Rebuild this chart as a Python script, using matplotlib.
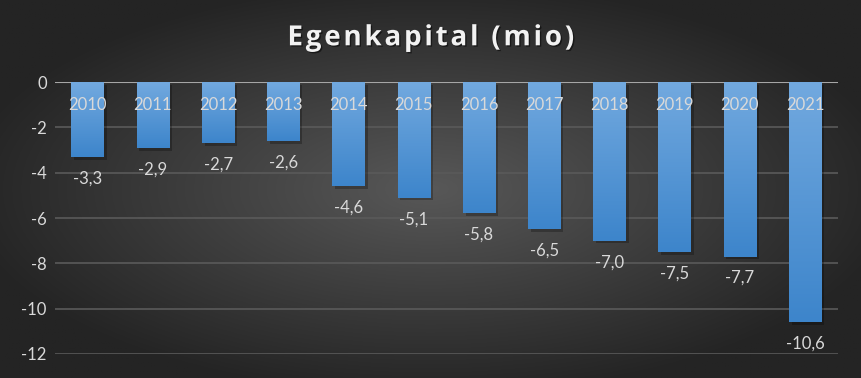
import numpy as np
import matplotlib.pyplot as plt
import matplotlib.patheffects as pe

years = ["2010", "2011", "2012", "2013", "2014", "2015", "2016", "2017", "2018", "2019", "2020", "2021"]
values = [-3.3, -2.9, -2.7, -2.6, -4.6, -5.1, -5.8, -6.5, -7.0, -7.5, -7.7, -10.6]
y_ticks = [0, -2, -4, -6, -8, -10, -12]
title = "Egenkapital (mio)"

plt.rcParams["font.family"] = ["Lato", "DejaVu Sans"]

fig = plt.figure(figsize=(8.61, 3.78), dpi=100)

# radial background
bg = fig.add_axes([0, 0, 1, 1])
yy, xx = np.mgrid[-1:1:300j, -1:1:600j]
r = np.sqrt((xx / 1.1) ** 2 + (yy / 1.1) ** 2)
r = np.clip(r, 0, 1)
inner = np.array([0x58, 0x58, 0x58]) / 255
outer = np.array([0x24, 0x24, 0x24]) / 255
img = inner[None, None, :] * (1 - r[..., None]) + outer[None, None, :] * r[..., None]
bg.imshow(img, aspect="auto", extent=[0, 1, 0, 1])
bg.axis("off")

ax = fig.add_axes([0.064, 0.0635, 0.909, 0.7195])
ax.patch.set_alpha(0)
x = np.arange(len(years))
bars = ax.bar(x, values, width=0.5, color="#4f93d6", zorder=3)

# vertical gradient on bars
grad = np.linspace(0, 1, 100).reshape(-1, 1)
top = np.array([0x72, 0xa9, 0xdf]) / 255
bot = np.array([0x3d, 0x85, 0xcb]) / 255
for b, v in zip(bars, values):
    col = top[None, None, :] * (1 - grad[..., None]) + bot[None, None, :] * grad[..., None]
    col = np.repeat(col, 2, axis=1)
    im = ax.imshow(col, extent=[b.get_x(), b.get_x() + b.get_width(), v, 0],
                   aspect="auto", zorder=4)
    im.set_clip_path(b)

shadow = [pe.withSimplePatchShadow(offset=(2, -2), shadow_rgbFace="black", alpha=0.25)]
for b in bars:
    b.set_path_effects(shadow)

for i, (yr, v) in enumerate(zip(years, values)):
    ax.text(i, -1.0, yr, ha="center", va="center", color="#d9d9d9", fontsize=12, zorder=5)
    ax.text(i, v - 0.95, f"{v:.1f}".replace(".", ","), ha="center", va="center",
            color="#d9d9d9", fontsize=12, zorder=5)

ax.set_xlim(-0.5, len(years) - 0.5)
ax.set_ylim(-12, 0)
ax.set_yticks(y_ticks)
ax.set_yticklabels([str(t) for t in y_ticks], color="#d9d9d9", fontsize=12)
ax.tick_params(axis="y", length=0, pad=6)
ax.set_xticks([])
ax.grid(axis="y", color="#5a5a5a", linewidth=1.2, zorder=0)
for s in ax.spines.values():
    s.set_visible(False)
ax.axhline(0, color="#a6a6a6", linewidth=1.5, zorder=2)

# letter-spaced title
fig.text(0.5, 0.9, "\u200a".join(title), ha="center", va="center", color="#f2f2f2",
         fontsize=20, fontweight="bold", family=["Open Sans", "DejaVu Sans"],
         path_effects=[pe.withSimplePatchShadow(offset=(1, -1), shadow_rgbFace="black", alpha=0.5)])

fig.savefig("out.png", dpi=100)
